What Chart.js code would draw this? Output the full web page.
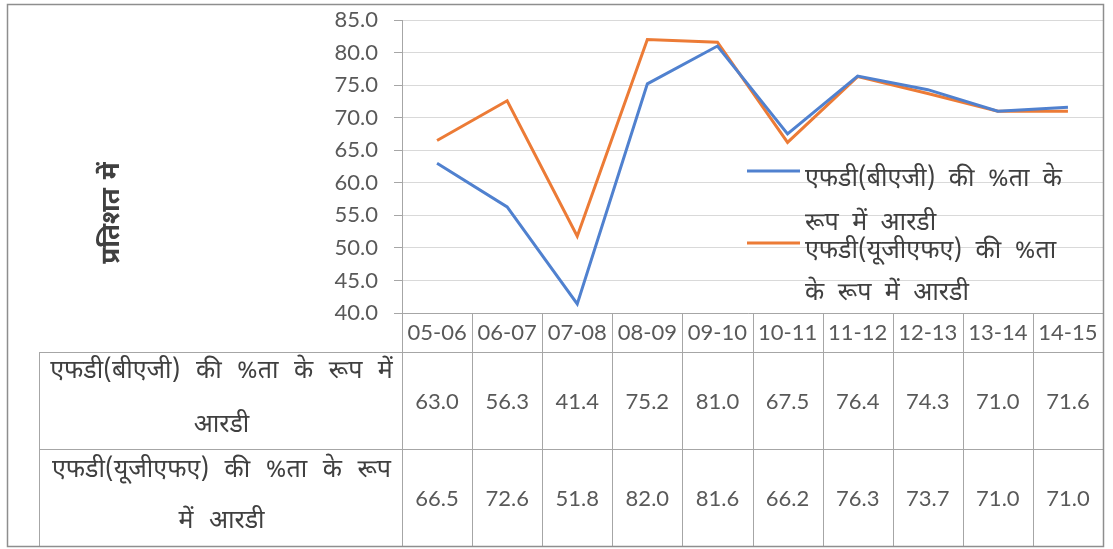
<!DOCTYPE html>
<html>
<head>
<meta charset="utf-8">
<script src="https://cdn.jsdelivr.net/npm/chart.js@4.4.1/dist/chart.umd.min.js"></script>
<style>
  html, body { margin: 0; padding: 0; background: #ffffff; }
  #wrap { position: relative; width: 1113px; height: 549px; }
</style>
</head>
<body>
<div id="wrap"><canvas id="c" width="1113" height="549"></canvas></div>
<script>
// Financial years on the category axis
const years = ['05-06', '06-07', '07-08', '08-09', '09-10', '10-11', '11-12', '12-13', '13-14', '14-15'];

// RD as % of FD (BAG) and RD as % of FD (UGFA)
const rdPctFdBag  = [63.0, 56.3, 41.4, 75.2, 81.0, 67.5, 76.4, 74.3, 71.0, 71.6];
const rdPctFdUgfa = [66.5, 72.6, 51.8, 82.0, 81.6, 66.2, 76.3, 73.7, 71.0, 71.0];

// Series names, split the way they wrap in the legend and in the data table
const nameBag  = 'एफडी(बीएजी) की %ता के रूप में आरडी';
const nameUgfa = 'एफडी(यूजीएफए) की %ता के रूप में आरडी';
const legendLinesBag  = ['एफडी(बीएजी) की %ता के', 'रूप में आरडी'];
const legendLinesUgfa = ['एफडी(यूजीएफए) की %ता', 'के रूप में आरडी'];
const tableLinesBag   = ['एफडी(बीएजी) की %ता के रूप में', 'आरडी'];
const tableLinesUgfa  = ['एफडी(यूजीएफए) की %ता के रूप', 'में आरडी'];

const yTitle = 'प्रतिशत में';
const yMin = 40, yMax = 85, yStep = 5;

const COLOR_BAG  = '#5081CF';
const COLOR_UGFA = '#EC7B36';
const TEXT = '#404040';
const TICK_TEXT = '#595959';
const LINE = '#a6a6a6';
const NUM_FONT = 'Lato, "Noto Sans", sans-serif';
const DEV_FONT = '"Noto Sans Devanagari", "Lohit Devanagari", "Noto Sans", Lato, sans-serif';

// Row geometry of the data table under the plot
const TABLE_LEFT = 39;
const HEADER_BOTTOM = 352;
const ROW1_BOTTOM = 449;
const TABLE_BOTTOM = 546;

function devText(ctx, size, bold, spacing) {
  ctx.font = (bold ? 'bold ' : '') + size + 'px ' + DEV_FONT;
  if ('wordSpacing' in ctx) ctx.wordSpacing = spacing + 'px';
}

const frameAndTable = {
  id: 'frameAndTable',
  beforeDraw(chart) {
    const ctx = chart.ctx;
    ctx.save();
    ctx.fillStyle = '#ffffff';
    ctx.fillRect(0, 0, chart.width, chart.height);
    ctx.restore();
  },
  afterDraw(chart) {
    const { ctx, chartArea: a, scales: { x, y } } = chart;
    const half = (x.getPixelForValue(1) - x.getPixelForValue(0)) / 2;
    const right = a.right;
    const axisY = y.getPixelForValue(yMin);

    ctx.save();
    // horizontal axis line (with tick stub on the left)
    ctx.strokeStyle = LINE;
    ctx.lineWidth = 1;
    ctx.beginPath();
    ctx.moveTo(a.left - 8, Math.round(axisY) + 0.5);
    ctx.lineTo(right, Math.round(axisY) + 0.5);
    ctx.stroke();

    // table grid
    ctx.beginPath();
    [HEADER_BOTTOM, ROW1_BOTTOM, TABLE_BOTTOM].forEach(yy => {
      ctx.moveTo(TABLE_LEFT, yy + 0.5);
      ctx.lineTo(right, yy + 0.5);
    });
    ctx.moveTo(TABLE_LEFT + 0.5, HEADER_BOTTOM);
    ctx.lineTo(TABLE_LEFT + 0.5, TABLE_BOTTOM);
    for (let i = 0; i <= years.length; i++) {
      const xx = Math.round(x.getPixelForValue(i) - half) + 0.5;
      ctx.moveTo(xx, axisY);
      ctx.lineTo(xx, TABLE_BOTTOM);
    }
    ctx.stroke();

    // table row labels
    ctx.fillStyle = TEXT;
    ctx.textAlign = 'center';
    ctx.textBaseline = 'alphabetic';
    devText(ctx, 25, false, 9);
    const labelCx = (TABLE_LEFT + a.left) / 2 + 1;
    ctx.fillText(tableLinesBag[0], labelCx, 378);
    ctx.fillText(tableLinesBag[1], labelCx, 432);
    ctx.fillText(tableLinesUgfa[0], labelCx, 477);
    ctx.fillText(tableLinesUgfa[1], labelCx, 528);

    // table values
    ctx.fillStyle = TICK_TEXT;
    ctx.font = '22px ' + NUM_FONT;
    if ('wordSpacing' in ctx) ctx.wordSpacing = '0px';
    ctx.textBaseline = 'middle';
    chart.data.datasets.forEach((ds, di) => {
      const cy = di === 0 ? (HEADER_BOTTOM + ROW1_BOTTOM) / 2 + 1 : (ROW1_BOTTOM + TABLE_BOTTOM) / 2 + 1;
      ds.data.forEach((v, i) => {
        ctx.fillText(v.toFixed(1), x.getPixelForValue(i), cy);
      });
    });

    // legend inside the plot
    const entries = [
      { color: COLOR_BAG, lines: legendLinesBag, y0: 171, y1: 217 },
      { color: COLOR_UGFA, lines: legendLinesUgfa, y0: 243, y1: 287 }
    ];
    ctx.textAlign = 'left';
    ctx.textBaseline = 'alphabetic';
    devText(ctx, 25, false, 7);
    entries.forEach(e => {
      ctx.strokeStyle = e.color;
      ctx.lineWidth = 3;
      ctx.beginPath();
      ctx.moveTo(747, e.y0);
      ctx.lineTo(800, e.y0);
      ctx.stroke();
      ctx.fillStyle = TEXT;
      ctx.fillText(e.lines[0], 805, e.y0 + 15);
      ctx.fillText(e.lines[1], 805, e.y1 + 13);
    });

    // vertical axis title
    ctx.save();
    ctx.translate(114, 213);
    ctx.rotate(-Math.PI / 2);
    ctx.textAlign = 'center';
    ctx.textBaseline = 'middle';
    devText(ctx, 26, true, 2);
    ctx.fillStyle = TEXT;
    ctx.fillText(yTitle, 0, 0);
    ctx.restore();

    // outer chart frame
    ctx.strokeStyle = '#8e8e8e';
    ctx.lineWidth = 1.5;
    ctx.strokeRect(7.5, 4.5, 1096, 542);
    ctx.restore();
  }
};

new Chart(document.getElementById('c'), {
  type: 'line',
  data: {
    labels: years,
    datasets: [
      { label: nameBag, data: rdPctFdBag, borderColor: COLOR_BAG, backgroundColor: COLOR_BAG,
        borderWidth: 3, pointRadius: 0, tension: 0 },
      { label: nameUgfa, data: rdPctFdUgfa, borderColor: COLOR_UGFA, backgroundColor: COLOR_UGFA,
        borderWidth: 3, pointRadius: 0, tension: 0 }
    ]
  },
  options: {
    responsive: false,
    animation: false,
    layout: { padding: { left: 0, top: 20, right: 10, bottom: 3 } },
    plugins: { legend: { display: false }, tooltip: { enabled: false }, title: { display: false } },
    scales: {
      x: {
        offset: true,
        grid: { display: false, drawTicks: false },
        border: { display: false },
        ticks: { color: TICK_TEXT, font: { family: NUM_FONT, size: 22 }, padding: 7, maxRotation: 0, autoSkip: false },
        afterFit(scale) { scale.height = 233; }
      },
      y: {
        min: yMin, max: yMax,
        grid: { color: '#d9d9d9', lineWidth: 1, drawTicks: true, tickLength: 8, tickColor: LINE },
        border: { display: true, color: LINE, width: 1 },
        ticks: { stepSize: yStep, color: TICK_TEXT, font: { family: NUM_FONT, size: 22 }, padding: 16,
                 callback: v => Number(v).toFixed(1) },
        afterFit(scale) { scale.width = 402; scale.paddingTop = 0; scale.paddingBottom = 0; }
      }
    }
  },
  plugins: [frameAndTable]
});
</script>
</body>
</html>
